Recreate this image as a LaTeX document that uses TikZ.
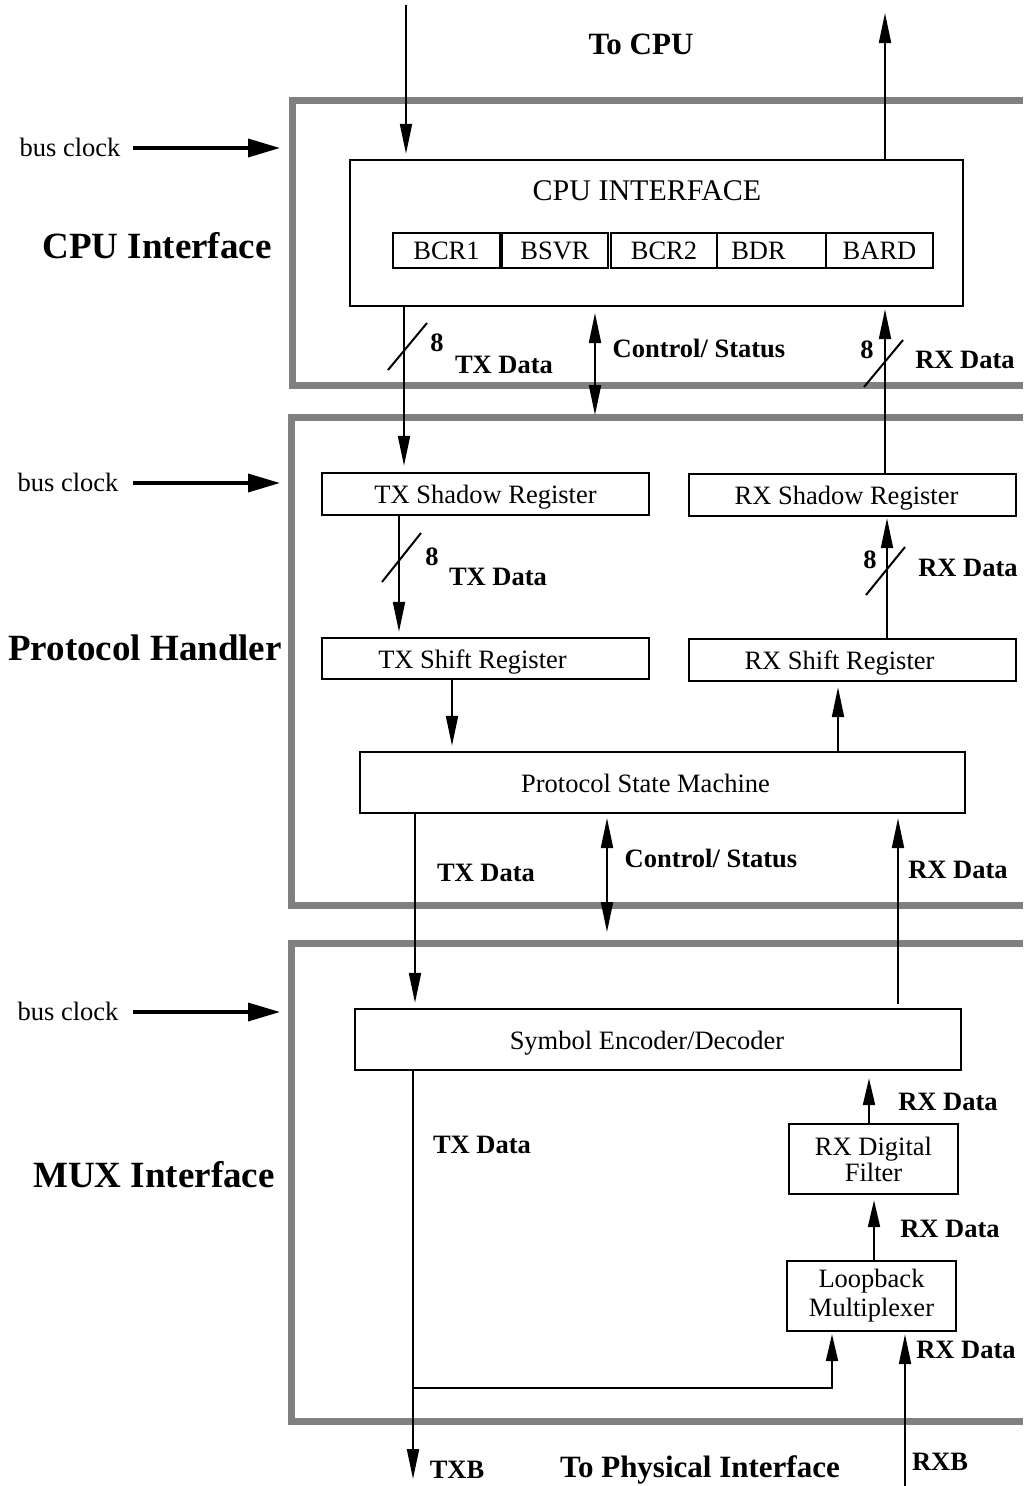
\documentclass[tikz,border=0pt]{standalone}
\usepackage{fontspec}
\setmainfont{Liberation Serif}
\usetikzlibrary{arrows.meta}
\newcommand\myreg{\fontsize{26.5}{26}\selectfont}
\newcommand\mylab{\fontsize{26.5}{26}\selectfont\bfseries}
\newcommand\myttl{\fontsize{37}{40}\selectfont\bfseries}
\newcommand\mytop{\fontsize{31}{34}\selectfont\bfseries}
\newcommand\mycpu{\fontsize{30}{32}\selectfont}
\begin{document}
\begin{tikzpicture}[x=1pt,y=-1pt,
  frame/.style={draw=black!50, line width=7pt},
  box/.style={draw, line width=2.4pt, inner sep=0pt, font=\myreg, align=center},
  oneline/.style={text height=19pt, text depth=0pt},
  regbox/.style={draw, line width=2pt, inner sep=0pt, minimum height=35pt, font=\myreg},
  arr/.style={line width=2pt, -{Triangle[length=30pt,width=12pt]}},
  sarr/.style={line width=2pt, -{Triangle[length=27pt,width=12pt]}},
  darr/.style={line width=2pt, {Triangle[length=30pt,width=12pt]}-{Triangle[length=30pt,width=12pt]}},
  clk/.style={line width=3.5pt, -{Triangle[length=32pt,width=18pt]}},
  lbl/.style={font=\mylab, inner sep=0pt},
  ttl/.style={font=\myttl, inner sep=0pt},
  txt/.style={font=\myreg, inner sep=0pt},
  slash/.style={line width=2pt},
]
\useasboundingbox (0,0) rectangle (1023,1486);

% frames
\draw[frame] (1023,100) -- (292,100) -- (292,385) -- (1023,385);
\draw[frame] (1023,417) -- (291,417) -- (291,905) -- (1023,905);
\draw[frame] (1023,943) -- (291,943) -- (291,1421) -- (1023,1421);

% section titles
\node[ttl] (tcpu) at (157,246) {CPU Interface};
\node[ttl] (tph) at (145,648) {Protocol Handler};
\node[ttl] (tmux) at (154,1175) {MUX Interface};

% bus clocks
\node[txt] (bc1) at (70,147) {bus clock};
\node[txt] (bc2) at (68,482) {bus clock};
\node[txt] (bc3) at (68,1011) {bus clock};
\coordinate (bc1e) at (280,148);
\coordinate (bc2e) at (280,483);
\coordinate (bc3e) at (280,1012);
\draw[clk] ([xshift=12pt]bc1.east |- bc1e) -- (bc1e);
\draw[clk] ([xshift=14pt]bc2.east |- bc2e) -- (bc2e);
\draw[clk] ([xshift=14pt]bc3.east |- bc3e) -- (bc3e);

% boxes
\node[box, minimum width=613pt, minimum height=146pt] (cpu) at (656.5,233) {};
\node[font=\mycpu, inner sep=0pt] (cpulbl) at (647,191) {CPU INTERFACE};
\node[regbox, minimum width=107pt] (bcr1) at (446.5,250.5) {BCR1};
\node[regbox, minimum width=106pt] (bsvr) at (555,250.5) {BSVR};
\node[regbox, minimum width=106pt] (bcr2) at (664,250.5) {BCR2};
\node[regbox, minimum width=109pt] (bdr) at (771.5,250.5) {BDR\hspace*{26pt}};
\node[regbox, minimum width=107pt] (bard) at (879.5,250.5) {BARD};

\node[box, oneline, minimum width=327pt, minimum height=42pt] (txsh) at (485.5,494) {TX Shadow Register};
\node[box, oneline, minimum width=327pt, minimum height=42pt] (rxsh) at (852.5,495) {RX Shadow Register\hspace*{12pt}};
\node[box, oneline, minimum width=327pt, minimum height=41pt] (txsf) at (485.5,658.5) {TX Shift Register\hspace*{26pt}};
\node[box, oneline, minimum width=327pt, minimum height=42pt] (rxsf) at (852.5,660) {RX Shift Register\hspace*{26pt}};
\node[box, oneline, minimum width=605pt, minimum height=61pt] (psm) at (662.5,782.5) {Protocol State Machine\hspace*{34pt}};
\node[box, oneline, minimum width=606pt, minimum height=61pt] (sym) at (658,1039.5) {Symbol Encoder/Decoder\hspace*{22pt}};
\node[box, minimum width=169pt, minimum height=70pt, font=\fontsize{26.5}{26}\selectfont] (filt) at (873.5,1159) {RX Digital\\Filter};
\node[box, minimum width=169pt, minimum height=70pt, font=\fontsize{26.5}{29}\selectfont] (loop) at (871.5,1296) {Loopback\\Multiplexer};

% top labels
\node[font=\mytop, inner sep=0pt] (tocpu) at (641,44) {To CPU};

% CPU section connectors
\coordinate (txin) at (406,5);
\draw[arr, shorten >=5pt] (txin) -- (txin |- cpu.north);
\coordinate (cpuout) at (885,13);
\draw[arr] (cpuout |- cpu.north) -- (cpuout);

\coordinate (xa) at (404,0);
\draw[arr, shorten >=6pt] (xa |- cpu.south) -- (xa |- txsh.north);
\draw[slash] (388,370) -- (427,323);
\node[lbl] (n8a) at (437,343) {8};
\node[lbl] (tda) at (504,365) {TX Data};

\coordinate (cs1a) at (595,313);
\coordinate (cs1b) at (595,415);
\draw[darr] (cs1a) -- (cs1b);
\node[lbl] (csa) at (699,348) {Control/ Status};

\coordinate (xb) at (885,0);
\draw[arr, shorten >=2pt] (xb |- rxsh.north) -- (xb |- cpu.south);
\draw[slash] (864,387) -- (903,340);
\node[lbl] (n8b) at (867,350) {8};
\node[lbl] (rda) at (965,360) {RX Data};

% Protocol handler connectors
\coordinate (xc) at (399,0);
\draw[arr, shorten >=5pt] (xc |- txsh.south) -- (xc |- txsf.north);
\draw[slash] (382,582) -- (421,533);
\node[lbl] (n8c) at (432,557) {8};
\node[lbl] (tdb) at (498,577) {TX Data};

\coordinate (xd) at (887,0);
\draw[arr, shorten >=1pt] (xd |- rxsf.north) -- (xd |- rxsh.south);
\draw[slash] (866,595) -- (905,547);
\node[lbl] (n8d) at (870,560) {8};
\node[lbl] (rdb) at (968,568) {RX Data};

\coordinate (xe) at (452,0);
\draw[arr, shorten >=5pt] (xe |- txsf.south) -- (xe |- psm.north);
\coordinate (xf) at (838,0);
\draw[arr, shorten >=5pt] (xf |- psm.north) -- (xf |- rxsf.south);

\coordinate (xg) at (415,0);
\draw[arr, shorten >=5pt] (xg |- psm.south) -- (xg |- sym.north);
\node[lbl] (tdc) at (486,873) {TX Data};

\coordinate (cs2a) at (607,818);
\coordinate (cs2b) at (607,932);
\draw[darr] (cs2a) -- (cs2b);
\node[lbl] (csb) at (711,858) {Control/ Status};

\coordinate (xh) at (898,0);
\draw[arr, shorten >=4pt] ([yshift=4pt]xh |- sym.north) -- (xh |- psm.south);
\node[lbl] (rdc) at (958,870) {RX Data};

% MUX section connectors
\coordinate (txb) at (413,1479);
\draw[arr] (txb |- sym.south) -- (txb);
\node[lbl] (tdd) at (482,1145) {TX Data};

\coordinate (xi) at (869,0);
\draw[sarr, shorten >=7pt] (xi |- filt.north) -- (xi |- sym.south);
\node[lbl] (rdd) at (948,1102) {RX Data};

\coordinate (xj) at (874,0);
\draw[sarr, shorten >=5pt] (xj |- loop.north) -- (xj |- filt.south);
\node[lbl] (rde) at (950,1229) {RX Data};

\coordinate (lb) at (413,1388);
\coordinate (xk) at (832,0);
\draw[sarr, shorten >=2pt] (lb) -- (xk |- lb) -- (xk |- loop.south);

\coordinate (rxb) at (905,1490);
\draw[arr, shorten >=2pt] (rxb) -- (rxb |- loop.south);
\node[lbl] (rdf) at (966,1350) {RX Data};

% bottom labels
\node[lbl] (ltxb) at (457,1470) {TXB};
\node[font=\mytop, inner sep=0pt] (tophy) at (700,1470) {To Physical Interface};
\node[lbl] (lrxb) at (940,1462) {RXB};
\end{tikzpicture}
\end{document}
